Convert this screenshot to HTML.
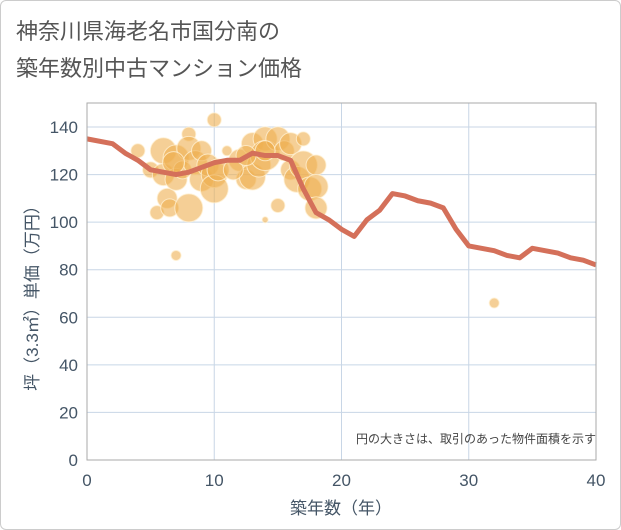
<!DOCTYPE html>
<html><head><meta charset="utf-8"><style>
body{margin:0;background:#fff;font-family:"Liberation Sans","Noto Sans CJK JP",sans-serif}
#wrap{position:relative;width:619px;height:528px;border:1px solid #ccc;border-radius:6px;background:#fff}
</style></head><body>
<div id="wrap">
<svg id="c" width="621" height="530" style="position:absolute;left:-1px;top:-1px">
<text x="16" y="39" font-size="22" fill="#555">神奈川県海老名市国分南の</text>
<text x="16" y="76" font-size="22" fill="#555">築年数別中古マンション価格</text>
<g id="grid"></g><g id="bub"></g><g id="ln"></g><g id="ax"></g>
<text x="596" y="443" font-size="12" fill="#444" text-anchor="end">円の大きさは、取引のあった物件面積を示す</text>
<text x="341" y="514" font-size="17" fill="#445566" text-anchor="middle">築年数（年）</text>
<text transform="translate(38,294) rotate(-90)" font-size="17" fill="#445566" text-anchor="middle">坪（3.3㎡）単価（万円）</text>
</svg></div>
<script>
const xTicks=[0,10,20,30,40];
const yTicks=[0,20,40,60,80,100,120,140];
const lineX=[0,2,3,4,5,6,7,8,9,10,11,12,13,14,15,16,17,18,19,20,21,22,23,24,25,26,27,28,29,30,31,32,33,34,35,36,37,38,39,40];
const lineY=[135,133,129,126,122,121,120,121,123,125,126,126,129,128,128,126,114,104,101,97,94,101,105,112,111,109,108,106,97,90,89,88,86,85,89,88,87,85,84,82];
const bubX=[4,5,5.5,6,6,6.3,6.5,7,7,7.5,8,8,8,8.5,9,9,9.5,10,10,10,10.3,11,12,12.5,13,13,13.5,14,14,14,15,15,15.5,16,16,16.5,17,17,17.5,18,18,18,7,14,32,11.5,12.5,6.8];
const bubY=[130,122,104,130,120,110,106,127,118,122,137,131,106,125,130,118,124,143,120,114,122,130,126,118,133,119,124,135,128,101,135,107,130,133,122,118,135,124,114,124,115,106,86,130,66,122,128,125];
const bubR=[7,8,7,13,11,10,9,13,11,9,7,12,14,12,10,12,11,7,13,14,11,5,11,10,11,13,12,12,15,3,12,7,10,11,10,13,7,14,12,10,12,11,5,10,5,10,10,11];
const ns="http://www.w3.org/2000/svg";
const X0=87,X1=596,Y0=460,Y1=127;
const sx=v=>X0+(X1-X0)*v/40, sy=v=>Y0-(Y0-Y1)*v/140;
function mk(t,a,p){const e=document.createElementNS(ns,t);for(const k in a)e.setAttribute(k,a[k]);p.appendChild(e);return e;}
const g=document.getElementById('grid'),ax=document.getElementById('ax');
mk('rect',{x:X0,y:103,width:X1-X0,height:Y0-103,fill:'#fff',stroke:'none'},g);
yTicks.forEach(v=>{const l=mk('line',{x1:X0,x2:X1,y1:sy(v),y2:sy(v),stroke:'#c8d6e6','stroke-width':1},g);


const t=mk('text',{x:78,y:sy(v)+6,'font-size':17,fill:'#445566','text-anchor':'end'},ax);t.textContent=v;

});
xTicks.forEach(v=>{const l=mk('line',{x1:sx(v),x2:sx(v),y1:103,y2:Y0,stroke:'#c8d6e6','stroke-width':1},g);


const t=mk('text',{x:sx(v),y:486,'font-size':17,fill:'#445566','text-anchor':'middle'},ax);t.textContent=v;

});
const fr=mk('rect',{x:X0,y:103,width:X1-X0,height:Y0-103,fill:'none',stroke:'#aaa','stroke-width':1},ax);


const b=document.getElementById('bub');
bubX.forEach((v,i)=>{const c=mk('circle',{cx:sx(v),cy:sy(bubY[i]),r:bubR[i],fill:'rgba(238,175,80,0.6)',stroke:'rgba(255,240,210,0.8)','stroke-width':1},b);

});
const p=mk('polyline',{points:lineX.map((v,i)=>sx(v)+','+sy(lineY[i])).join(' '),fill:'none',stroke:'#d4705a','stroke-width':5,'stroke-linejoin':'round'},document.getElementById('ln'));


</script></body></html>
